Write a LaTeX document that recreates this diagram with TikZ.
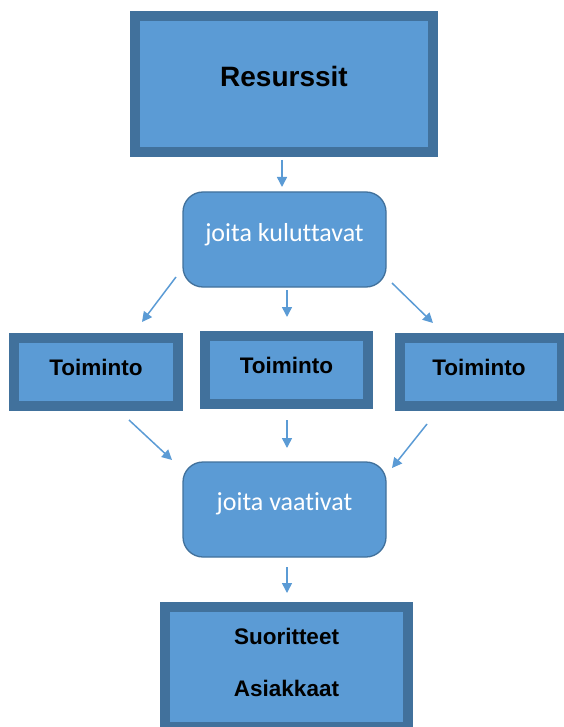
\documentclass[tikz,border=0pt]{standalone}
\usepackage{fontspec}
\newfontfamily\lsans{Liberation Sans}
\newfontfamily\carl{Carlito}[Ligatures=NoCommon]
\usetikzlibrary{arrows.meta}
\definecolor{boxfill}{HTML}{5B9BD5}
\definecolor{boxedge}{HTML}{41719C}
\tikzset{
  thickbox/.style={draw=boxedge, line width=10.5pt, fill=boxfill, inner sep=0pt, outer sep=0pt,
    font=\lsans\bfseries\fontsize{22.5}{53}\selectfont, text=black, align=center},
  roundbox/.style={draw=boxedge, line width=1.3pt, fill=boxfill, rounded corners=20pt, inner sep=0pt, outer sep=0pt,
    minimum width=203pt, minimum height=95pt, font=\carl\fontsize{26}{30}\selectfont, text=white},
  arr/.style={draw=boxfill, line width=1.5pt, -{Triangle[length=10pt,width=10pt]}}
}
\begin{document}
\begin{tikzpicture}[x=1pt,y=-1pt]
\useasboundingbox (0,0) rectangle (563,727);
\node[thickbox, minimum width=298pt, minimum height=136pt, font=\lsans\bfseries\fontsize{28}{32}\selectfont] (res) at (284,84) {\raisebox{16pt}{Resurssit}};
\node[roundbox] (kul) at (284.5,239.5) {\raisebox{14.5pt}{joita kuluttavat}};
\node[thickbox, minimum width=164pt, minimum height=68pt] (t1) at (96,372) {\raisebox{9pt}{Toiminto}};
\node[thickbox, minimum width=163pt, minimum height=68pt] (t2) at (286.5,370) {\raisebox{10pt}{Toiminto}};
\node[thickbox, minimum width=162.5pt, minimum height=68pt] (t3) at (481,372) {\hspace*{-4pt}\raisebox{9pt}{Toiminto}};
\node[roundbox] (vaa) at (284.5,509.5) {\raisebox{15.5pt}{joita vaativat}};
\node[thickbox, minimum width=243pt, minimum height=120pt] (suo) at (286.5,667) {\raisebox{9pt}{\shortstack{Suoritteet\\[33pt]Asiakkaat}}};
% arrows
\draw[arr] ([shift={(-2,8)}]res.south) -- ([shift={(-2.5,-5)}]kul.north);
\draw[arr] ([shift={(2.5,3)}]kul.south) -- ([shift={(0.5,-19)}]t2.north);
\draw[arr] ([shift={(-7,-10)}]kul.south west) -- ([shift={(46,-16)}]t1.north);
\draw[arr] ([shift={(6,-4)}]kul.south east) -- ([shift={(-48,-15)}]t3.north);
\draw[arr] ([shift={(33,14)}]t1.south) -- ([shift={(-11,-2)}]vaa.north west);
\draw[arr] ([shift={(0.5,16)}]t2.south) -- ([shift={(2.5,-14)}]vaa.north);
\draw[arr] ([shift={(-54,18)}]t3.south) -- ([shift={(6,6)}]vaa.north east);
\draw[arr] ([shift={(2.5,10)}]vaa.south) -- ([shift={(0.5,-14)}]suo.north);
\end{tikzpicture}
\end{document}
